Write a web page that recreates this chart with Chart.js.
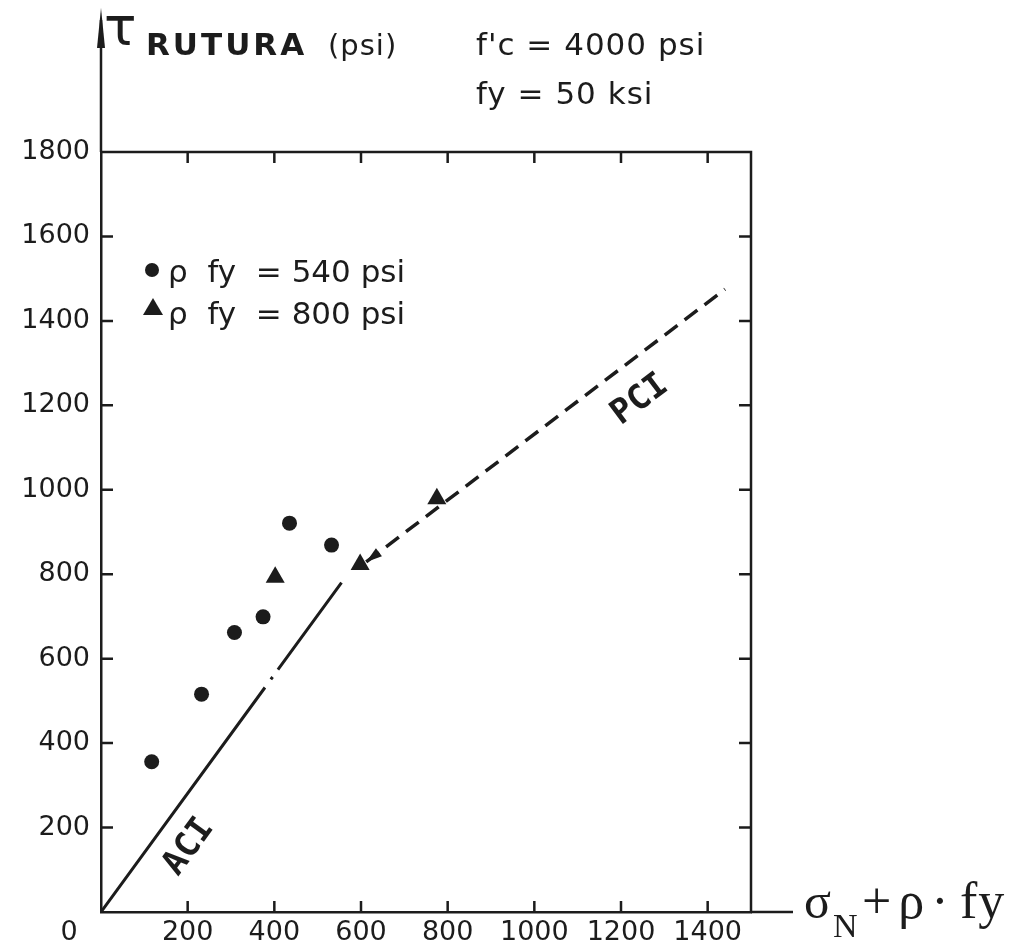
<!DOCTYPE html>
<html>
<head>
<meta charset="utf-8">
<script src="https://cdn.jsdelivr.net/npm/chart.js@4.4.1/dist/chart.umd.min.js"></script>
<style>
  body { margin: 0; background: #fff; }
  #wrap { width: 1021px; height: 944px; }
</style>
</head>
<body>
<div id="wrap"><canvas id="myChart" width="1021" height="944"></canvas></div>
<script>
// tick values of both axes
const xTicks = [0, 200, 400, 600, 800, 1000, 1200, 1400];
const yTicks = [0, 200, 400, 600, 800, 1000, 1200, 1400, 1600, 1800];

// test results (sigma_N + rho*fy , tau rutura), psi
const rho540X = [117, 232, 308, 374, 435, 532];
const rho540Y = [356, 516, 662, 699, 921, 869];
const rho800X = [402, 598, 775];
const rho800Y = [793, 823, 979];

// code lines
const aciX = [0, 555];
const aciY = [0, 780];
const pciX = [612, 1440];
const pciY = [829, 1475];

const ink = '#1c1c1c';
const toPts = (xs, ys) => xs.map((v, i) => ({ x: v, y: ys[i] }));

const decor = {
  id: 'decor',
  afterDatasetsDraw(chart) {
    const { ctx } = chart;
    // arrow head at the lower end of the PCI line
    const meta = chart.getDatasetMeta(3);
    const p0 = meta.data[0], p1 = meta.data[1];
    const ang = Math.atan2(p0.y - p1.y, p0.x - p1.x);
    ctx.save();
    ctx.translate(p0.x, p0.y);
    ctx.rotate(ang);
    ctx.fillStyle = ink;
    ctx.beginPath();
    ctx.moveTo(0, 0);
    ctx.lineTo(-16, -5);
    ctx.lineTo(-16, 5);
    ctx.closePath();
    ctx.fill();
    ctx.restore();
  },
  afterDraw(chart) {
    const { ctx, chartArea: a, scales: { x, y } } = chart;
    ctx.save();
    ctx.strokeStyle = ink;
    ctx.lineWidth = 2.5;
    ctx.beginPath();
    // top and right frame
    ctx.moveTo(a.left, a.top);
    ctx.lineTo(a.right, a.top);
    ctx.lineTo(a.right, a.bottom);
    // x axis runs past the frame
    ctx.moveTo(a.right, a.bottom);
    ctx.lineTo(793, a.bottom);
    // y axis runs up to the arrow
    ctx.moveTo(a.left, a.top);
    ctx.lineTo(a.left, 20);
    // inward ticks
    xTicks.forEach(v => {
      if (v === 0) return;
      const px = x.getPixelForValue(v);
      ctx.moveTo(px, a.bottom); ctx.lineTo(px, a.bottom - 11);
      ctx.moveTo(px, a.top); ctx.lineTo(px, a.top + 11);
    });
    yTicks.forEach(v => {
      if (v === 0 || v === 1800) return;
      const py = y.getPixelForValue(v);
      ctx.moveTo(a.left, py); ctx.lineTo(a.left + 12, py);
      ctx.moveTo(a.right, py); ctx.lineTo(a.right - 12, py);
    });
    ctx.stroke();

    // arrow on top of the y axis
    ctx.fillStyle = ink;
    ctx.beginPath();
    ctx.moveTo(a.left, 8);
    ctx.lineTo(a.left - 4, 48);
    ctx.lineTo(a.left + 4, 48);
    ctx.closePath();
    ctx.fill();

    ctx.textBaseline = 'alphabetic';
    ctx.textAlign = 'left';

    // axis titles
    ctx.font = '54px "DejaVu Sans"';
    ctx.fillText('τ', 104, 45);
    ctx.letterSpacing = '3px';
    ctx.font = 'bold 31px "DejaVu Sans"';
    ctx.fillText('RUTURA', 146, 55);
    ctx.letterSpacing = '1px';
    ctx.font = '29px "DejaVu Sans"';
    ctx.fillText('(psi)', 328, 55);

    ctx.font = '31px "DejaVu Sans"';
    ctx.fillText("f'c = 4000 psi", 476, 55);
    ctx.fillText('fy = 50 ksi', 476, 104);

    // origin label
    ctx.letterSpacing = '0px';
    ctx.textAlign = 'center';
    ctx.font = '27px "DejaVu Sans"';
    ctx.fillText('0', 69, 940);

    // abscissa title
    ctx.textAlign = 'left';
    ctx.font = '50px "Liberation Serif"';
    ctx.fillText('σ', 804, 918);
    ctx.font = '34px "Liberation Serif"';
    ctx.fillText('N', 833, 937);
    ctx.letterSpacing = '7px';
    ctx.font = '52px "Liberation Serif"';
    ctx.fillText('+ρ·', 862, 918);
    ctx.letterSpacing = '1px';
    ctx.fillText('fy', 960, 918);
    ctx.letterSpacing = '0px';

    // legend inside the plot
    ctx.beginPath();
    ctx.arc(152, 270, 7, 0, Math.PI * 2);
    ctx.fill();
    ctx.beginPath();
    ctx.moveTo(153, 298);
    ctx.lineTo(143, 315);
    ctx.lineTo(163, 315);
    ctx.closePath();
    ctx.fill();
    ctx.font = '31px "DejaVu Sans"';
    ctx.fillText('ρ  fy  = 540 psi', 168, 282);
    ctx.fillText('ρ  fy  = 800 psi', 168, 324);

    // line labels along the lines
    ctx.font = 'bold 34px "DejaVu Sans Mono"';
    ctx.textAlign = 'center';
    ctx.textBaseline = 'middle';
    ctx.save();
    ctx.translate(189, 847);
    ctx.rotate(-54 * Math.PI / 180);
    ctx.fillText('ACI', 0, 0);
    ctx.restore();
    ctx.save();
    ctx.translate(640, 400);
    ctx.rotate(-37 * Math.PI / 180);
    ctx.fillText('PCI', 0, 0);
    ctx.restore();

    ctx.restore();
  }
};

const ctx = document.getElementById('myChart').getContext('2d');

new Chart(ctx, {
  type: 'scatter',
  data: {
    datasets: [
      {
        label: 'ρ fy = 540 psi',
        data: toPts(rho540X, rho540Y),
        pointStyle: 'circle',
        pointRadius: 7.5,
        backgroundColor: ink,
        borderColor: ink,
        borderWidth: 0
      },
      {
        label: 'ρ fy = 800 psi',
        data: toPts(rho800X, rho800Y),
        pointStyle: 'triangle',
        pointRadius: 11,
        backgroundColor: ink,
        borderColor: ink,
        borderWidth: 0
      },
      {
        label: 'ACI',
        type: 'line',
        data: toPts(aciX, aciY),
        borderColor: ink,
        borderWidth: 3,
        borderCapStyle: 'butt',
        borderDash: [278, 10, 3, 9, 200],
        pointRadius: 0,
        fill: false
      },
      {
        label: 'PCI',
        type: 'line',
        data: toPts(pciX, pciY),
        borderColor: ink,
        borderWidth: 3.5,
        borderCapStyle: 'butt',
        borderDash: [16, 9],
        pointRadius: 0,
        fill: false
      }
    ]
  },
  options: {
    responsive: false,
    animation: false,
    layout: {
      padding: { left: 0, top: 152, right: 270, bottom: 0 }
    },
    scales: {
      x: {
        type: 'linear',
        min: 0,
        max: 1500,
        afterBuildTicks: s => { s.ticks = xTicks.map(v => ({ value: v })); },
        afterFit: s => { s.height = 32; },
        grid: { display: false, drawTicks: false },
        border: { display: true, color: ink, width: 2.5 },
        ticks: {
          padding: 5,
          color: ink,
          font: { family: 'DejaVu Sans', size: 27 },
          callback: v => (v === 0 ? '' : v)
        }
      },
      y: {
        type: 'linear',
        min: 0,
        max: 1800,
        afterBuildTicks: s => { s.ticks = yTicks.map(v => ({ value: v })); },
        afterFit: s => { s.width = 101; },
        grid: { display: false, drawTicks: false },
        border: { display: true, color: ink, width: 2.5 },
        ticks: {
          padding: 11,
          color: ink,
          font: { family: 'DejaVu Sans', size: 27 },
          callback: v => (v === 0 ? '' : v)
        }
      }
    },
    plugins: {
      legend: { display: false },
      tooltip: { enabled: false }
    }
  },
  plugins: [decor]
});
</script>
</body>
</html>
